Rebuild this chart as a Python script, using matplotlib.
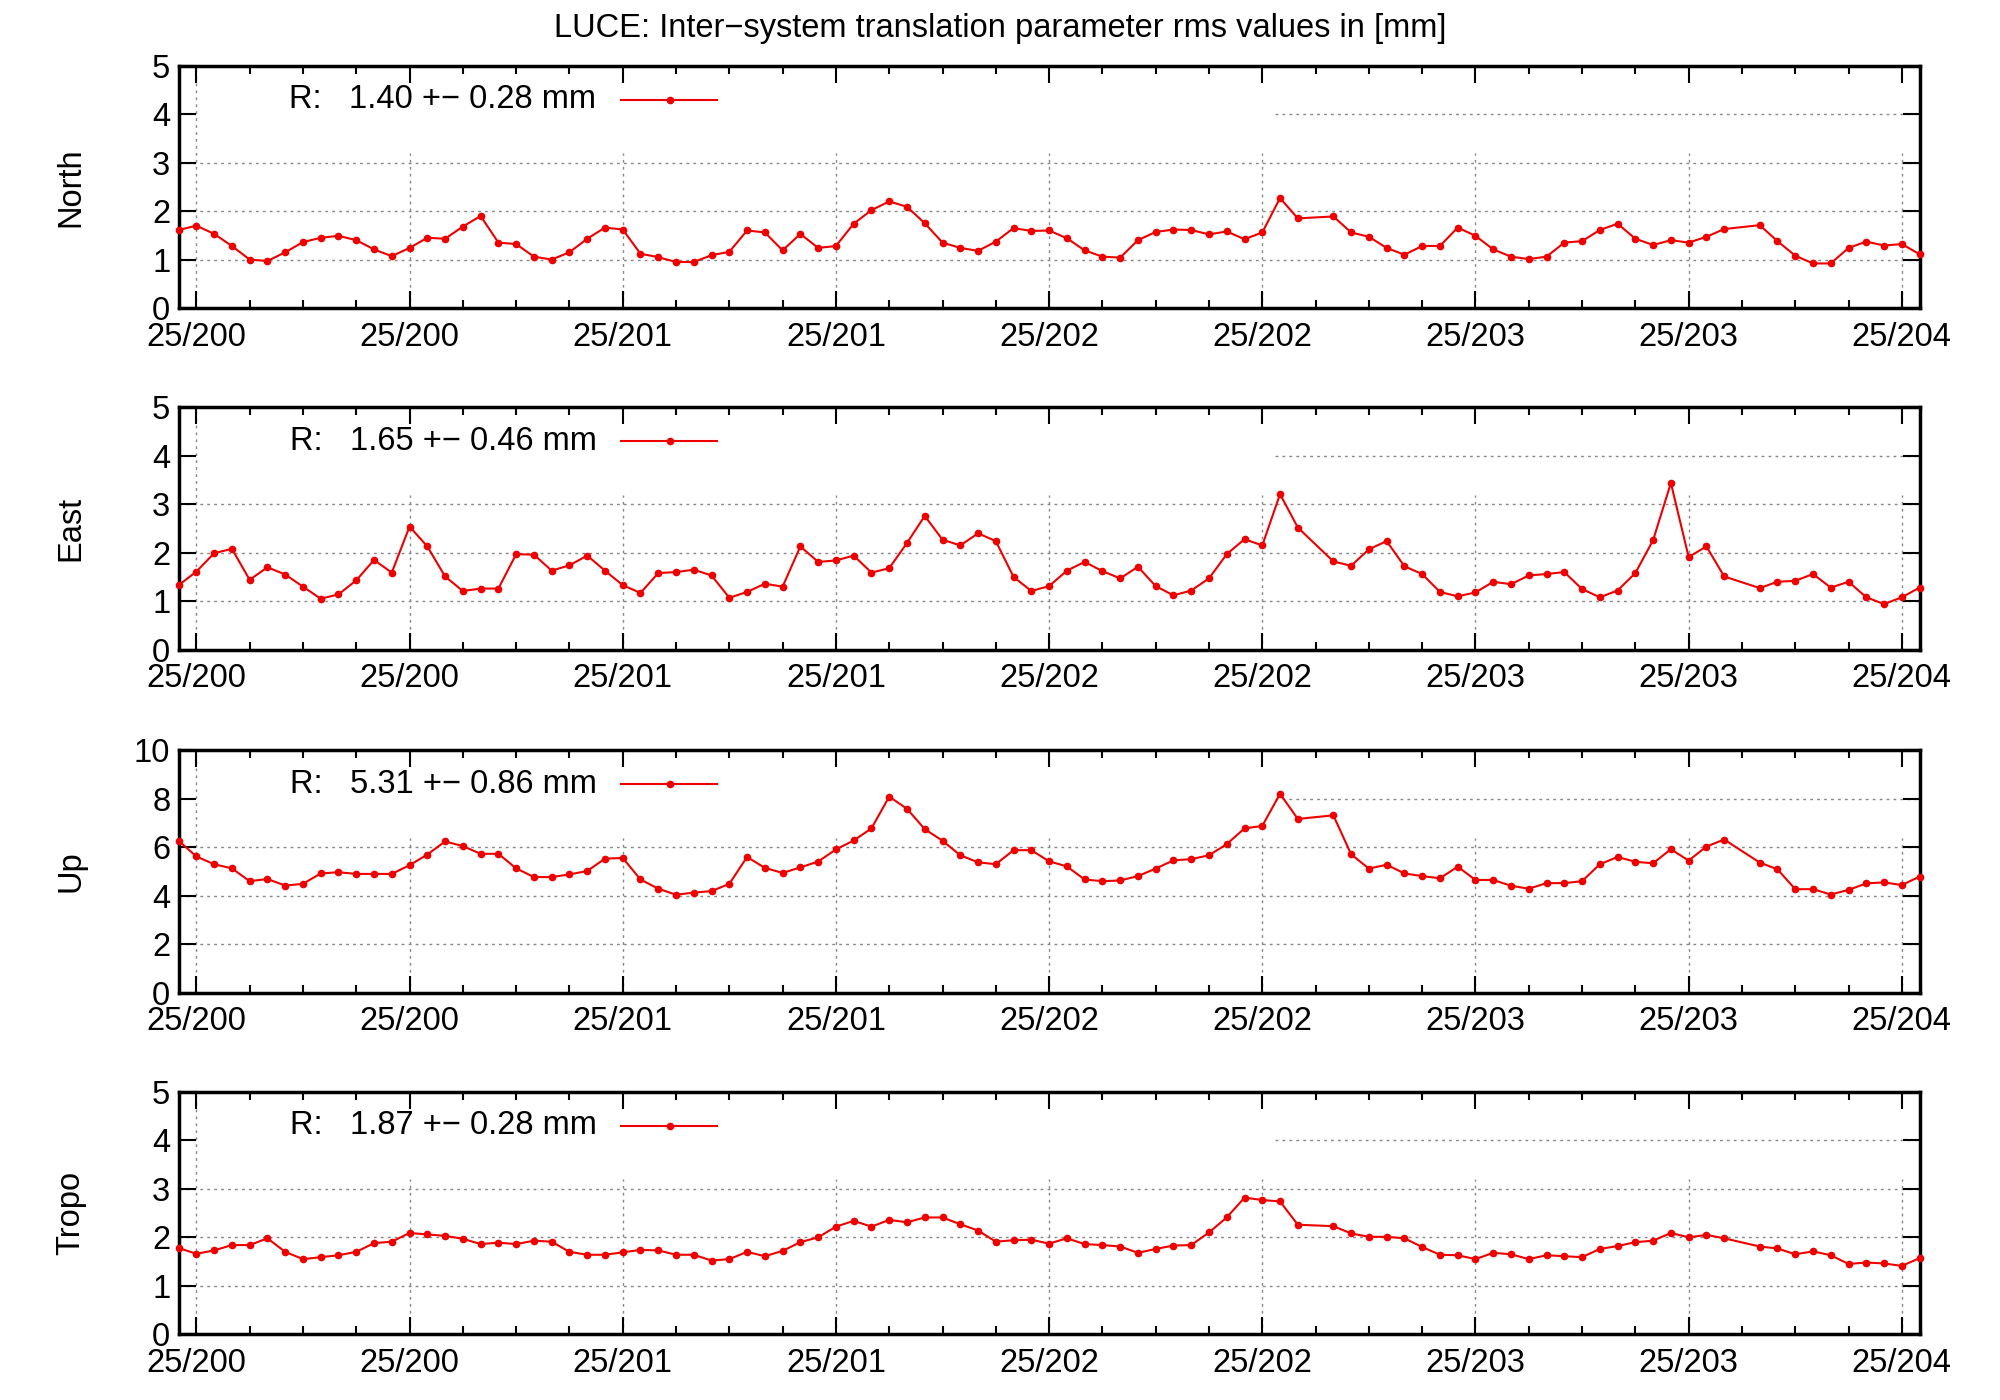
import numpy as np
import matplotlib
matplotlib.use("Agg")
import matplotlib.pyplot as plt

plt.rcParams["font.family"] = "Liberation Sans"

week = [i for i in range(99) if i not in (64, 88)]
north = [1.61,1.70,1.53,1.28,1.00,0.97,1.15,1.36,1.45,1.49,1.40,1.21,1.07,1.24,1.45,1.43,1.68,1.90,1.35,1.32,
         1.06,1.00,1.15,1.43,1.66,1.62,1.12,1.05,0.95,0.95,1.09,1.16,1.60,1.56,1.19,1.53,1.24,1.28,1.74,2.02,
         2.20,2.09,1.75,1.35,1.24,1.18,1.37,1.65,1.59,1.60,1.44,1.19,1.06,1.04,1.40,1.57,1.62,1.61,1.52,1.58,
         1.42,1.56,2.27,1.85,1.89,1.56,1.47,1.24,1.10,1.28,1.28,1.66,1.49,1.21,1.06,1.01,1.06,1.35,1.38,1.61,
         1.74,1.43,1.30,1.40,1.35,1.47,1.63,1.71,1.38,1.08,0.92,0.92,1.24,1.37,1.29,1.32,1.11]
east = [1.33,1.61,1.99,2.08,1.44,1.70,1.55,1.30,1.05,1.14,1.43,1.85,1.59,2.54,2.13,1.51,1.21,1.26,1.26,1.97,
        1.96,1.63,1.74,1.94,1.63,1.33,1.17,1.58,1.60,1.65,1.53,1.07,1.19,1.36,1.30,2.13,1.81,1.84,1.94,1.59,
        1.68,2.20,2.76,2.27,2.15,2.40,2.24,1.50,1.21,1.31,1.63,1.81,1.62,1.47,1.71,1.31,1.12,1.22,1.47,1.97,
        2.28,2.15,3.21,2.52,1.82,1.73,2.07,2.24,1.72,1.56,1.19,1.10,1.18,1.40,1.35,1.53,1.56,1.60,1.25,1.08,
        1.22,1.58,2.26,3.44,1.91,2.13,1.51,1.27,1.40,1.42,1.56,1.28,1.40,1.08,0.94,1.08,1.28]
up = [6.27,5.62,5.30,5.13,4.60,4.69,4.42,4.49,4.92,4.97,4.90,4.90,4.90,5.26,5.70,6.24,6.05,5.73,5.73,5.13,
      4.77,4.77,4.88,5.02,5.53,5.56,4.67,4.29,4.04,4.13,4.19,4.49,5.60,5.15,4.94,5.17,5.41,5.91,6.28,6.78,
      8.09,7.59,6.75,6.27,5.67,5.38,5.30,5.88,5.88,5.42,5.21,4.67,4.60,4.63,4.81,5.12,5.46,5.51,5.67,6.13,
      6.78,6.88,8.21,7.17,7.32,5.71,5.12,5.28,4.92,4.81,4.72,5.20,4.65,4.65,4.41,4.29,4.52,4.52,4.60,5.30,
      5.60,5.40,5.34,5.92,5.45,6.03,6.32,5.37,5.09,4.27,4.27,4.05,4.24,4.51,4.55,4.44,4.79]
tropo = [1.78,1.66,1.73,1.84,1.84,1.98,1.70,1.55,1.59,1.63,1.70,1.88,1.91,2.09,2.06,2.03,1.97,1.86,1.89,1.86,
         1.93,1.91,1.70,1.64,1.64,1.69,1.74,1.73,1.64,1.64,1.52,1.55,1.70,1.61,1.72,1.90,2.00,2.22,2.34,2.22,
         2.36,2.31,2.41,2.41,2.27,2.14,1.91,1.94,1.95,1.87,1.98,1.86,1.84,1.81,1.68,1.76,1.83,1.84,2.10,2.41,
         2.82,2.77,2.74,2.26,2.23,2.08,2.01,2.01,1.98,1.80,1.64,1.63,1.55,1.68,1.65,1.55,1.63,1.61,1.59,1.76,
         1.82,1.90,1.93,2.09,2.00,2.05,1.98,1.81,1.77,1.65,1.71,1.63,1.45,1.48,1.46,1.41,1.57]

panel_names = ["North", "East", "Up", "Tropo"]
panel_stats = ["R:   1.40 +\u2212 0.28 mm", "R:   1.65 +\u2212 0.46 mm",
               "R:   5.31 +\u2212 0.86 mm", "R:   1.87 +\u2212 0.28 mm"]
panel_ymax = [5, 5, 10, 5]
tick_pos = [1, 13, 25, 37, 49, 61, 73, 85, 97]
tick_labels = ["25/200", "25/200", "25/201", "25/201", "25/202", "25/202", "25/203", "25/203", "25/204"]

FS = 23.5
fig = plt.figure(figsize=(20, 14), dpi=100)
fig.text(0.5, 0.98, "LUCE: Inter\u2212system translation parameter rms values in [mm]",
         ha="center", va="center", fontsize=FS)

bottoms = [0.780, 0.536, 0.291, 0.047]
series = [north, east, up, tropo]
red = "#ee0000"
for k in range(4):
    ax = fig.add_axes([0.0893, bottoms[k], 0.8705, 0.173])
    ym = panel_ymax[k]
    ax.set_xlim(0, 98)
    ax.set_ylim(0, ym)
    step = ym / 5
    yt = np.arange(0, ym + step / 2, step)
    ax.set_yticks(yt)
    ax.set_yticklabels([f"{v:g}" for v in yt])
    ax.set_xticks(tick_pos)
    ax.set_xticklabels(tick_labels)
    ax.set_xticks(np.arange(1, 99, 3), minor=True)
    ax.tick_params(which="both", direction="in", top=True, right=True, labelsize=FS, width=1.5)
    ax.tick_params(which="major", length=12)
    ax.tick_params(axis="x", which="major", pad=10)
    ax.tick_params(axis="y", which="major", pad=6)
    ax.tick_params(which="minor", length=6)
    for s in ax.spines.values():
        s.set_linewidth(2.5)
    gkw = dict(color="#888888", lw=1.0, ls=(0, (2, 3)), zorder=1)
    for y in yt[1:-1]:
        if y > 0.7 * ym:
            ax.plot([61.7, 98], [y, y], **gkw)
        else:
            ax.plot([0, 98], [y, y], **gkw)
    for x in tick_pos:
        if x == 1:
            ax.plot([x, x], [0, ym], **gkw)
        else:
            ax.plot([x, x], [0, 0.64 * ym], **gkw)
    ax.plot(week, series[k], color=red, lw=1.5, marker="o", ms=4.5, zorder=3, clip_on=False)
    ax.set_ylabel(panel_names[k], fontsize=FS)
    ax.yaxis.set_label_coords(-0.053, 0.5)
    ax.text(0.240, 0.86, panel_stats[k], transform=ax.transAxes, ha="right", va="center", fontsize=FS)
    ax.plot([0.254, 0.309], [0.86, 0.86], transform=ax.transAxes, color=red, lw=1.5)
    ax.plot([0.282], [0.86], transform=ax.transAxes, color=red, marker="o", ms=4.5)

fig.savefig("out.png", dpi=100)
